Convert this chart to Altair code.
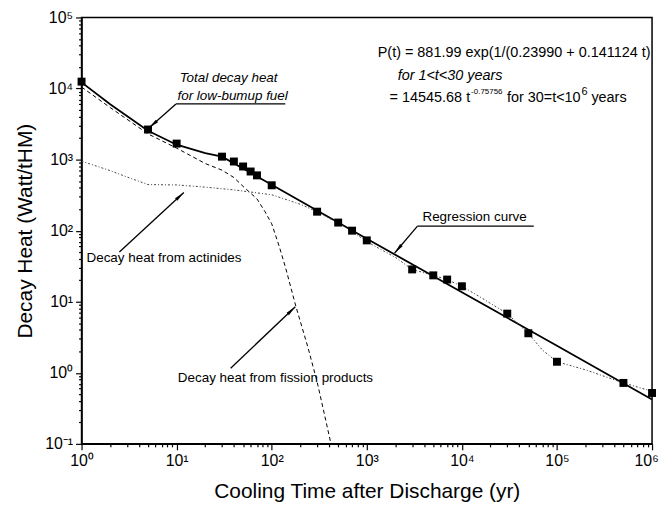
import math
import altair as alt
import pandas as pd

# ---------------- data ----------------
pts_t = [1, 5, 10, 30, 40, 50, 60, 70, 100, 300, 500, 700, 1000, 3000, 5000, 7000,
         1e4, 3e4, 5e4, 1e5, 5e5, 1e6]
pts_v = [12500, 2650, 1680, 1100, 940, 800, 680, 600, 435, 185, 130, 100, 73, 28.5,
         23.5, 20.5, 16.5, 6.8, 3.6, 1.43, 0.72, 0.52]

reg_t = [1, 2, 5, 10, 20, 30, 100, 1000, 1e4, 1e5, 1e6]
reg_v = [12200, 6000, 2550, 1620, 1230, 1100, 444, 77, 13.6, 2.4, 0.42]

fis_t = [1, 2, 5, 10, 20, 30, 40, 50, 70, 85, 100, 120, 140, 180, 240, 300, 350, 420]
fis_v = [10500, 5400, 2300, 1450, 880, 710, 560, 420, 280, 185, 125, 60, 30, 8.5,
         2.3, 0.75, 0.3, 0.1]

act_t = [1, 2, 3, 5, 10, 20, 40, 100, 200, 300, 500, 700, 1000, 2000, 3000, 5000,
         7000, 1e4, 1.5e4, 3e4, 5e4, 7e4, 1e5, 2e5, 5e5, 1e6]
act_v = [950, 700, 570, 445, 440, 410, 375, 320, 235, 185, 128, 98, 70, 42, 28.5,
         23.5, 20.5, 16.5, 12, 6.8, 3.6, 2.1, 1.43, 1.1, 0.72, 0.55]

x_ticks = [m * 10 ** d for d in range(0, 6) for m in range(1, 10)] + [1e6]
y_ticks = [m * 10.0 ** d for d in range(-1, 5) for m in range(1, 10)] + [1e5]

FONT = "Liberation Sans"
PX_X = 95.67   # px per decade (x)
PX_Y = 71.5    # px per decade (y)

xs = alt.Scale(type="log", domain=[1, 1e6], nice=False)
ys = alt.Scale(type="log", domain=[0.1, 1e5], nice=False)

major = "abs(log(datum.value)/LN10 - round(log(datum.value)/LN10)) < 0.001"
lab = ("(" + major + ") ? (round(log(datum.value)/LN10) < 0 ? '10\u207b\u00b9' : "
       "'10' + substring('\u2070\u00b9\u00b2\u00b3\u2074\u2075\u2076\u2077\u2078\u2079', "
       "round(log(datum.value)/LN10), round(log(datum.value)/LN10)+1)) : ''")

common_axis = dict(
    labelExpr=lab, labelFont=FONT, labelFontSize=16, labelColor="black",
    labelOverlap=False, labelFlush=False, grid=False,
    domainColor="black", domainWidth=1.5, tickColor="black", tickWidth=1.2,
    tickSize=alt.condition(major, alt.value(6), alt.value(3)),
    titleFont=FONT, titleFontSize=21, titleFontWeight="normal", titleColor="black",
)

X = alt.X("t:Q", scale=xs, axis=alt.Axis(
    values=x_ticks, title="Cooling Time after Discharge (yr)",
    labelOffset=alt.condition("datum.value > 500000", alt.value(-6), alt.value(0)),
    labelPadding=3, titlePadding=12, **common_axis))
Y = alt.Y("v:Q", scale=ys, axis=alt.Axis(values=y_ticks, title="Decay Heat (Watt/tHM)",
                                          labelPadding=3, titlePadding=9, **common_axis))
Xn = alt.X("t:Q", scale=xs)
Yn = alt.Y("v:Q", scale=ys)

reg = alt.Chart(pd.DataFrame({"t": reg_t, "v": reg_v})).mark_line(
    color="black", strokeWidth=1.8, clip=True).encode(x=X, y=Y)
fis = alt.Chart(pd.DataFrame({"t": fis_t, "v": fis_v})).mark_line(
    color="black", strokeWidth=1, strokeDash=[4, 3], clip=True).encode(x=Xn, y=Yn)
act = alt.Chart(pd.DataFrame({"t": act_t, "v": act_v})).mark_line(
    color="#444444", strokeWidth=1, strokeDash=[2, 2, 1, 2], clip=True).encode(x=Xn, y=Yn)
pts = alt.Chart(pd.DataFrame({"t": pts_t, "v": pts_v})).mark_point(
    shape="square", filled=True, color="black", size=64, opacity=1).encode(x=Xn, y=Yn)

# ---------------- annotations ----------------
def shift(t, dx):
    return t * 10 ** (dx / PX_X)

# leader segments (t, v, t2, v2)
seg_t = [9.84, 9.84, 3410, 3410, 2.5, 37]
seg_v = [6070, 6070, 115.6, 115.6, 50, 1.16]
seg_t2 = [139, 5.14, 57000, 1963, 11.9, 177]
seg_v2 = [6070, 2800, 115.6, 48.5, 345, 8.5]
segs = pd.DataFrame({"t": seg_t, "v": seg_v, "t2": seg_t2, "v2": seg_v2})
rules = alt.Chart(segs).mark_rule(color="black", strokeWidth=1.3).encode(
    x=Xn, y=Yn, x2="t2:Q", y2="v2:Q")

# arrow heads at the tips of the diagonal segments
heads = []
for i in [1, 3, 4, 5]:
    dx = (math.log10(seg_t2[i]) - math.log10(seg_t[i])) * PX_X
    dy = -(math.log10(seg_v2[i]) - math.log10(seg_v[i])) * PX_Y
    ang = math.degrees(math.atan2(dx, -dy)) % 360
    heads.append({"t": seg_t2[i], "v": seg_v2[i], "a": ang})
heads_df = pd.DataFrame(heads)
arrow = alt.Chart(heads_df).mark_point(
    shape="M0,0L0.32,2L-0.32,2Z", filled=True, color="black", opacity=1, size=110
).encode(x=Xn, y=Yn, angle=alt.Angle("a:Q", scale=None))

def txt(t, v, s, size=13.5, align="left", style="normal", dy=0):
    return alt.Chart(pd.DataFrame({"t": [t], "v": [v], "s": [s]})).mark_text(
        font=FONT, fontSize=size, align=align, baseline="middle", fontStyle=style,
        color="black", dy=dy).encode(x=Xn, y=Yn, text="s:N")

t3 = 1738
v3 = 7360
texts = [
    txt(35.2, 14000, "Total decay heat", 13.5, "center", "italic"),
    txt(38.8, 7850, "for low-bumup fuel", 13.5, "center", "italic"),
    txt(1.128, 41.2, "Decay heat from actinides", 13.5),
    txt(10.3, 0.838, "Decay heat from fission products", 13.5),
    txt(3850, 155, "Regression curve", 13.5),
    txt(1303, 31400, "P(t) = 881.99 exp(1/(0.23990 + 0.141124 t)", 14.5),
    txt(2110, 14960, "for 1<t<30 years", 14.5, "left", "italic"),
    txt(t3, v3, "= 14545.68 t", 14.5),
    txt(shift(t3, 82), v3, "-0.75756", 8, dy=-6),
    txt(shift(t3, 118), v3, "for 30=t<10", 14.5),
    txt(shift(t3, 193), v3, "6", 11, dy=-6),
    txt(shift(t3, 203), v3, "years", 14.5),
]

chart = alt.layer(reg, fis, act, pts, rules, arrow, *texts).properties(
    width=574, height=429,
    autosize=alt.AutoSizeParams(type="none"),
    padding={"left": 74, "top": 8, "right": 8, "bottom": 62},
    background="white",
).configure_view(stroke="black", strokeWidth=1.5)

chart.save("out.html", embed_options={"renderer": "svg", "actions": False})
